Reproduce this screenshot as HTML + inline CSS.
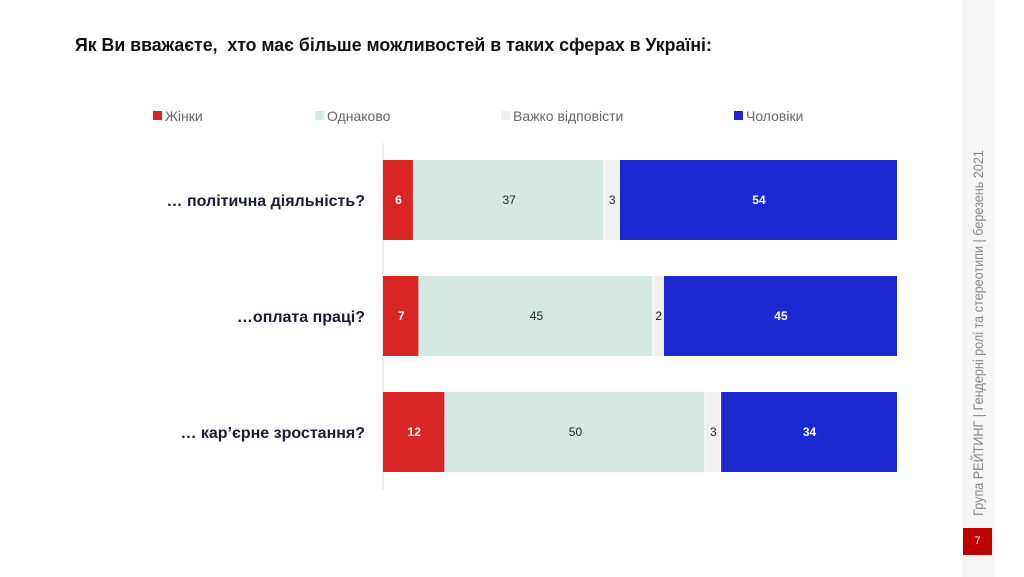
<!DOCTYPE html>
<html><head><meta charset="utf-8"><style>
body{margin:0;width:1024px;height:577px;background:#fff;position:relative;overflow:hidden;font-family:"Liberation Sans","Noto Sans CJK SC",sans-serif}
.t{position:absolute}
</style></head><body>
<div class="t" style="left:75px;top:35px;font-size:18px;font-weight:bold;color:#111;transform-origin:0 0;transform:scaleX(0.985);white-space:nowrap">Як Ви вважаєте,&nbsp; хто має більше можливостей в таких сферах в Україні:</div>
<div class="t" style="left:962px;top:0;width:33px;height:577px;background:#f6f6f6"></div>
<div class="t" style="left:978px;top:333px;transform:translate(-50%,-50%) rotate(-90deg) scaleX(0.9);white-space:nowrap;font-size:14px;color:#888">Група РЕЙТИНГ | Гендерні ролі та стереотипи | березень 2021</div>
<div class="t" style="left:963px;top:528px;width:29px;height:27px;background:#c00000;color:#fff;font-size:11px;text-align:center;line-height:27px">7</div>
<svg class="t" style="left:0;top:0" width="1024" height="577" id="chart"></svg>
<script>
const categories=["… політична діяльність?","…оплата праці?","… кар’єрне зростання?"];
const seriesNames=["Жінки","Однаково","Важко відповісти","Чоловіки"];
const women=[6,7,12];
const equal=[37,45,50];
const hard=[3,2,3];
const men=[54,45,34];
const colors=["#d92524","#d4e9e2","#f0f0f0","#1c29d0"];
const textColors=["#fff","#222","#222","#fff"];
const bold=[true,false,false,true];
const svg=document.getElementById('chart');
const NS="http://www.w3.org/2000/svg";
const x0=383,plotW=515;
function xs(v,total){return v/total*plotW;}
function yRow(i){return 160+i*116;}
const barH=80;
function mk(tag,attrs){const e=document.createElementNS(NS,tag);for(const k in attrs)e.setAttribute(k,attrs[k]);svg.appendChild(e);return e;}
const ax=mk('line',{x1:x0,y1:143,x2:x0,y2:490,stroke:'#ddd','stroke-width':1});


const legX=[153,315,501,734];
seriesNames.forEach((n,j)=>{
  const r=mk('rect',{x:legX[j],y:111,width:9,height:9,fill:colors[j]});
  
  
  const t=mk('text',{x:legX[j]+12,y:121,'font-size':14,fill:'#666'});
  t.textContent=n;
  
  
});
const series=[women,equal,hard,men];
categories.forEach((c,i)=>{
  const y=yRow(i);
  const lab=mk('text',{x:365,y:y+barH/2+6,'font-size':16,'font-weight':'bold',fill:'#1a1a3a','text-anchor':'end'});
  lab.textContent=c;
  
  
  const total=series.reduce((s,a)=>s+a[i],0);
  let cx=x0;
  series.forEach((arr,j)=>{
    const w=xs(arr[i],total);
    const r=mk('rect',{x:cx,y:y,width:Math.max(w-1,0),height:barH,fill:colors[j]});
    
    
    const t=mk('text',{x:cx+w/2,y:y+barH/2+4,'font-size':12,fill:textColors[j],'text-anchor':'middle','font-weight':bold[j]?'bold':'normal'});
    t.textContent=arr[i];
    
    
    cx+=w;
  });
});
</script>
</body></html>
